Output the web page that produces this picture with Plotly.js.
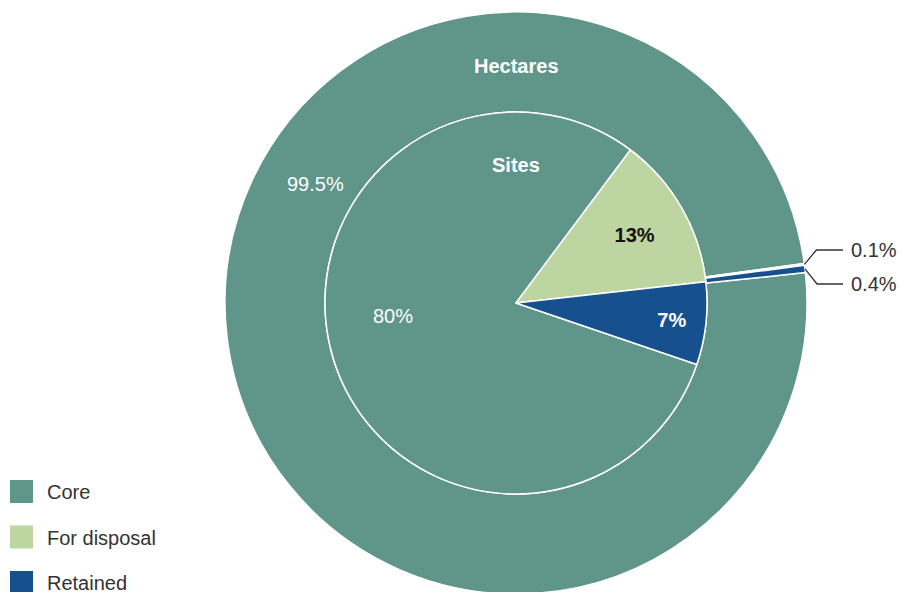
<!DOCTYPE html>
<html>
<head>
<meta charset="utf-8">
<script src="https://cdn.plot.ly/plotly-3.0.1.min.js"></script>
<style>
html,body{margin:0;padding:0;overflow:hidden;background:#fff;}
#chart{width:901px;height:600px;}
</style>
</head>
<body>
<div id="chart"></div>
<script>
// ---- data ----
const categories = ["Core", "For disposal", "Retained"];
const sitesPct = [80, 13, 7];
const hectaresPct = [99.5, 0.1, 0.4];
const ringTitles = ["Hectares", "Sites"];
const colors = ["#5f9689", "#bdd5a0", "#16508f"];

const FONT = "Liberation Sans, Arial, Helvetica, sans-serif";
const W = 901, H = 600;

// outer ring geometry (pixels)
const OC = {x: 516, y: 303, r: 291};
const outerRotation = 84;
// inner pie geometry (same centre as the ring)
const IC = {x: 516, y: 303, r: 191};
const innerRotation = 108.8;

function dom(c) {
  return {x: [(c.x - c.r) / W, (c.x + c.r) / W], y: [1 - (c.y + c.r) / H, 1 - (c.y - c.r) / H]};
}
const px = x => x / W, py = y => 1 - y / H;

const outer = {
  type: "pie",
  labels: categories,
  values: hectaresPct,
  sort: false,
  direction: "clockwise",
  rotation: outerRotation,
  hole: IC.r / OC.r,
  domain: dom(OC),
  marker: {colors: colors, line: {color: "#ffffff", width: 1.5}},
  textinfo: "none",
  showlegend: true,
  hoverinfo: "none"
};

const inner = {
  type: "pie",
  labels: categories,
  values: sitesPct,
  sort: false,
  direction: "clockwise",
  rotation: innerRotation,
  domain: dom(IC),
  marker: {colors: colors, line: {color: "#ffffff", width: 1.5}},
  texttemplate: "%{value}%",
  textposition: ["none", "inside", "inside"],
  insidetextorientation: "horizontal",
  insidetextfont: {family: FONT, size: 20, color: ["#ffffff", "#111111", "#ffffff"], weight: [400, 700, 700]},
  showlegend: true,
  hoverinfo: "none"
};

// leader lines for the tiny outer slices, anchored at each slice's mid-angle on the outer edge
const total = hectaresPct.reduce((a, b) => a + b, 0);
const shapes = [];
const annotations = [
  {text: ringTitles[0], x: px(516), y: py(66), xref: "paper", yref: "paper", showarrow: false,
   xanchor: "center", yanchor: "middle", font: {family: FONT, size: 20, color: "#ffffff", weight: 700}},
  {text: ringTitles[1], x: px(516), y: py(165), xref: "paper", yref: "paper", showarrow: false,
   xanchor: "center", yanchor: "middle", font: {family: FONT, size: 20, color: "#ffffff", weight: 700}},
  {text: hectaresPct[0] + "%", x: px(315), y: py(184), xref: "paper", yref: "paper", showarrow: false,
   xanchor: "center", yanchor: "middle", font: {family: FONT, size: 20, color: "#ffffff"}},
  {text: sitesPct[0] + "%", x: px(393), y: py(316), xref: "paper", yref: "paper", showarrow: false,
   xanchor: "center", yanchor: "middle", font: {family: FONT, size: 20, color: "#ffffff"}}
];
const labelY = {1: 250, 2: 284};
let cum = 0;
hectaresPct.forEach(function (v, i) {
  const a0 = outerRotation + cum / total * 360;
  cum += v;
  if (i === 0) return;
  const mid = (a0 + v / total * 180) * Math.PI / 180;
  const ex = OC.x + OC.r * Math.sin(mid), ey = OC.y - OC.r * Math.cos(mid);
  const ly = labelY[i];
  shapes.push({
    type: "path", xref: "paper", yref: "paper",
    path: "M" + px(ex) + "," + py(ey) + " L" + px(ex + 12) + "," + py(ly) + " L" + px(843) + "," + py(ly),
    line: {color: "#333333", width: 1.3}
  });
  annotations.push({text: v + "%", x: px(849), y: py(ly), xref: "paper", yref: "paper", showarrow: false,
    xanchor: "left", yanchor: "middle", font: {family: FONT, size: 20, color: "#333333"}});
});

const layout = {
  width: W,
  height: H,
  margin: {l: 0, r: 0, t: 0, b: 0},
  paper_bgcolor: "#ffffff",
  font: {family: FONT, color: "#333333"},
  showlegend: true,
  legend: {
    x: 0, y: 0.03, xanchor: "left", yanchor: "bottom",
    font: {family: FONT, size: 20, color: "#333333"},
    bgcolor: "rgba(0,0,0,0)", traceorder: "normal"
  },
  shapes: shapes,
  annotations: annotations
};

const gd = document.getElementById("chart");
Plotly.newPlot(gd, [outer, inner], layout, {staticPlot: true, displayModeBar: false}).then(function () {
  const leg = gd.querySelector(".legend");
  if (!leg) return;
  leg.removeAttribute("clip-path");
  leg.querySelectorAll("[clip-path]").forEach(function (el) { el.removeAttribute("clip-path"); });
  const items = leg.querySelectorAll(".traces");
  items.forEach(function (g, i) {
    const p = g.querySelector(".legendpoints path");
    if (p) {
      p.setAttribute("transform", (p.getAttribute("transform") || "") + " scale(1.92)");
      p.style.strokeWidth = "0";
      const r = p.getBoundingClientRect();
      const cx = r.left + r.width / 2, cy = r.top + r.height / 2;
      g.setAttribute("transform", (g.getAttribute("transform") || "") +
        " translate(" + (21.5 - cx) + "," + (491.5 + 45.5 * i - cy) + ")");
    }
    const t = g.querySelector(".legendtext");
    if (t) {
      const tr = t.getBoundingClientRect();
      t.setAttribute("x", parseFloat(t.getAttribute("x") || 0) + (47 - tr.left));
    }
  });
});
</script>
</body>
</html>
